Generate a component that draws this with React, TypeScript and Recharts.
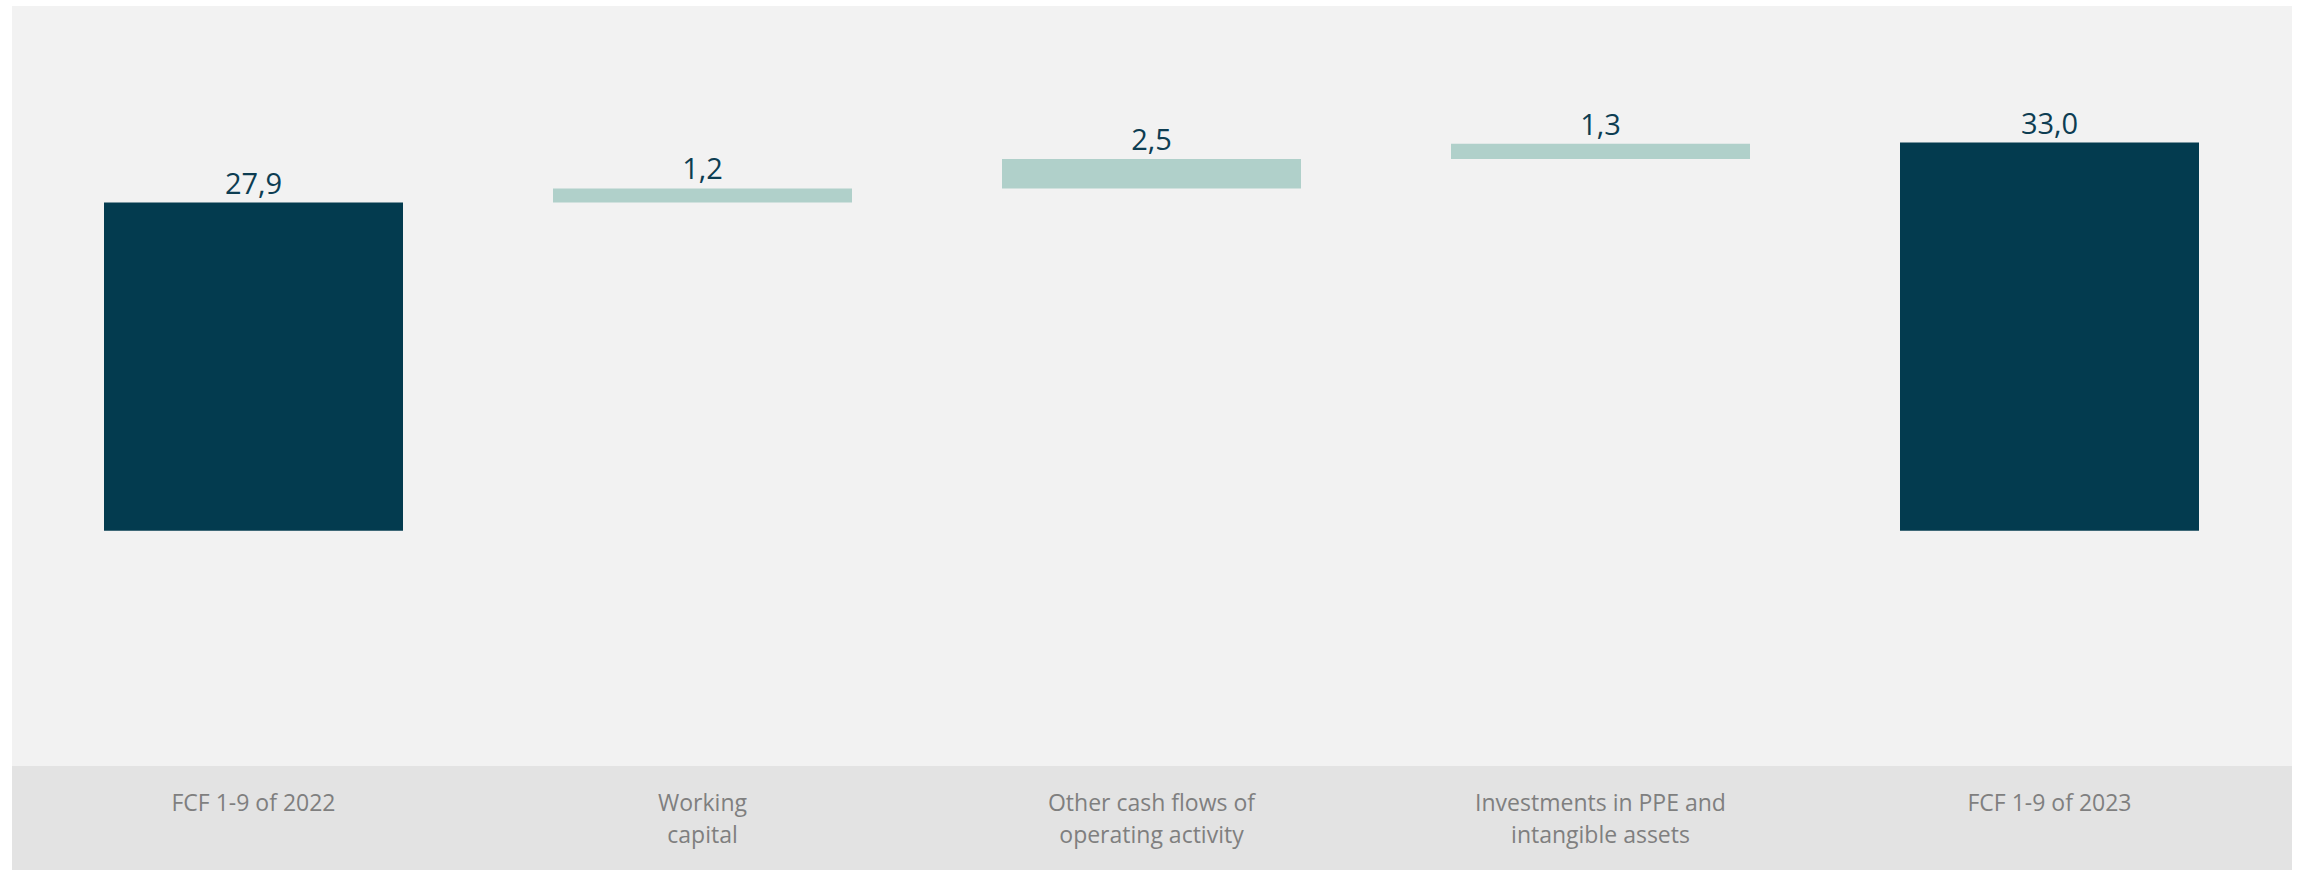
import { BarChart, Bar, XAxis, YAxis, Cell, LabelList } from 'recharts'

const categories = [
  ['FCF 1-9 of 2022'],
  ['Working', 'capital'],
  ['Other cash flows of', 'operating activity'],
  ['Investments in PPE and', 'intangible assets'],
  ['FCF 1-9 of 2023'],
]
const values = [27.9, 1.2, 2.5, 1.3, 33.0]
const kinds = ['total', 'delta', 'delta', 'delta', 'total']

const DARK = '#033b4f'
const LIGHT = '#b0d0ca'

// waterfall: an invisible base bar under each visible step
let running = 0
const rows = categories.map((lines, i) => {
  const isTotal = kinds[i] === 'total'
  const base = isTotal ? 0 : running
  running = isTotal ? values[i] : running + values[i]
  return { name: lines.join(' '), lines, base, value: values[i], kind: kinds[i] }
})

function Tick({ x, y, index }: any) {
  const lines = categories[index] || []
  return (
    <text x={x} y={y + 45} textAnchor="middle" fill="#7f7f7f" fontSize={23} fontFamily="Open Sans">
      {lines.map((l, i) => (
        <tspan key={i} x={x} dy={i === 0 ? 0 : 32}>
          {l}
        </tspan>
      ))}
    </text>
  )
}

export default function App() {
  return (
    <div style={{ position: 'absolute', left: 12, top: 6, width: 2280, height: 864, background: '#f2f2f2' }}>
      <div style={{ position: 'absolute', left: 0, top: 760, width: 2280, height: 104, background: '#e3e3e3' }} />
      <div style={{ position: 'absolute', left: 0, top: 0 }}>
        <BarChart width={2280} height={864} data={rows} margin={{ top: 19, right: 18, bottom: 0, left: 17 }}>
          <XAxis
            dataKey="name"
            height={104}
            axisLine={false}
            tickLine={false}
            tickSize={0}
            tickMargin={0}
            interval={0}
            tick={<Tick />}
          />
          <YAxis hide domain={[-20, 43]} />
          <Bar dataKey="base" stackId="w" fill="transparent" barSize={299} isAnimationActive={false} />
          <Bar dataKey="value" stackId="w" barSize={299} isAnimationActive={false}>
            {rows.map((r, i) => (
              <Cell key={i} fill={r.kind === 'total' ? DARK : LIGHT} />
            ))}
            <LabelList
              dataKey="value"
              position="top"
              offset={9}
              fill="#0d3d52"
              fontSize={29}
              fontFamily="Open Sans"
              formatter={(v: any) => Number(v).toFixed(1).replace('.', ',')}
            />
          </Bar>
        </BarChart>
      </div>
    </div>
  )
}
